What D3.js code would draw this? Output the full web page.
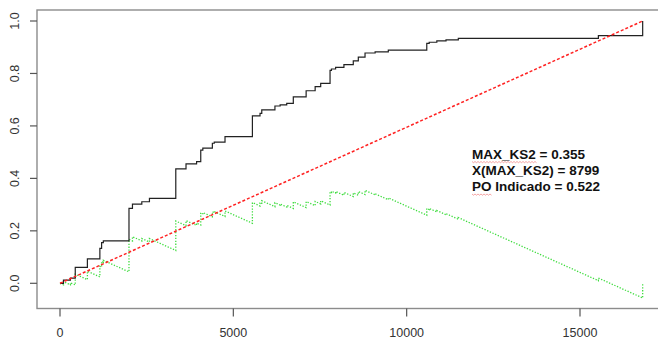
<!DOCTYPE html>
<html>
<head>
<meta charset="utf-8">
<script src="https://cdn.jsdelivr.net/npm/d3@7"></script>
<style>
  body { margin: 0; background: white; }
  text { font-family: "Liberation Sans", Arial, sans-serif; }
</style>
</head>
<body>
<div id="figure"></div>
<script>
// step points of the black curve (x where it jumps, value after the jump)
const stepX = [0, 100, 300, 440, 790, 1150, 1200, 1250, 1990, 2090, 2360, 2580, 3340, 3635, 3940, 4060, 4120, 4395, 4450, 4760,
  5550, 5770, 5820, 6200, 6350, 6540, 6730, 7100, 7360, 7520, 7790, 7830, 7950, 8190, 8460, 8605, 8799, 9090, 9470,
  10580, 10650, 10870, 11135, 11490, 15530, 16808]
const stepY = [0, 0.012, 0.02, 0.061, 0.093, 0.133, 0.155, 0.162, 0.286, 0.302, 0.311, 0.324, 0.436, 0.455, 0.464, 0.508, 0.515, 0.534, 0.538, 0.559,
  0.638, 0.648, 0.661, 0.676, 0.680, 0.686, 0.711, 0.734, 0.750, 0.762, 0.812, 0.817, 0.823, 0.834, 0.848, 0.862, 0.878, 0.882, 0.889,
  0.915, 0.919, 0.924, 0.928, 0.934, 0.944, 1.0]

// red diagonal
const diagX = [0, 16808]
const diagY = [0, 1]

const xTicks = [0, 5000, 10000, 15000]
const yTicks = [0, 0.2, 0.4, 0.6, 0.8, 1.0]
const notes = ['MAX_KS2 = 0.355', 'X(MAX_KS2) = 8799', 'PO Indicado = 0.522']

const width = 658
const height = 341
const box = { LEFT: 37, TOP: 10, BOTTOM: 308.5, RIGHT: 670 }

const x = d3.scaleLinear().domain([0, 15000]).range([60, 580])
const y = d3.scaleLinear().domain([0, 1]).range([283.3, 21])

const svg = d3.select('#figure').append('svg').attr('width', width).attr('height', height).attr('style', 'background:white')
const g = svg.append('g')

/**
 * box + axes
 */
g.append('rect').attr('x', box.LEFT).attr('y', box.TOP).attr('width', box.RIGHT - box.LEFT).attr('height', box.BOTTOM - box.TOP)
  .attr('fill', 'none').attr('stroke', '#8c8c8c').attr('stroke-width', 1.4)

const yAxis = g.append('g')
yAxis.selectAll('line').data(yTicks).enter().append('line')
  .attr('x1', 30).attr('x2', box.LEFT).attr('y1', d => y(d)).attr('y2', d => y(d))
  .attr('stroke', '#555').attr('stroke-width', 1.2)
yAxis.selectAll('text').data(yTicks).enter().append('text')
  .attr('transform', d => `translate(19.3,${y(d)}) rotate(-90)`)
  .attr('text-anchor', 'middle').attr('font-size', 12.5).attr('fill', '#333')
  .text(d3.format('.1f'))

const xAxis = g.append('g')
xAxis.selectAll('line').data(xTicks).enter().append('line')
  .attr('x1', d => x(d)).attr('x2', d => x(d)).attr('y1', box.BOTTOM).attr('y2', 316.5)
  .attr('stroke', '#555').attr('stroke-width', 1.2)
xAxis.selectAll('text').data(xTicks).enter().append('text')
  .attr('x', d => x(d)).attr('y', 337).attr('text-anchor', 'middle').attr('font-size', 12.5).attr('fill', '#333')
  .text(d => d)

/**
 * lines
 */
const N = diagX[1]
const steps = stepX.map((v, i) => [v, stepY[i]])

// green = black minus diagonal, sampled before and after every jump
const diff = []
steps.forEach((p, i) => {
  const base = p[0] / N
  if (i > 0) diff.push([p[0], stepY[i - 1] - base])
  diff.push([p[0], p[1] - base])
})

const line = d3.line().x(d => x(d[0])).y(d => y(d[1]))

g.append('path').datum(diff).attr('d', line)
  .attr('fill', 'none').attr('stroke', '#3fdc3f').attr('stroke-width', 1.3).attr('stroke-dasharray', '1.3,1.6')

g.append('path').datum(steps).attr('d', line.curve(d3.curveStepAfter))
  .attr('fill', 'none').attr('stroke', '#222').attr('stroke-width', 1.2)

g.append('path').datum(diagX.map((v, i) => [v, diagY[i]])).attr('d', d3.line().x(d => x(d[0])).y(d => y(d[1])))
  .attr('fill', 'none').attr('stroke', '#ff2222').attr('stroke-width', 1.5).attr('stroke-dasharray', '3,2')

/**
 * notes
 */
const noteG = g.append('g')
notes.forEach((t, i) => {
  noteG.append('text').text(t).attr('x', 472).attr('y', 158.5 + i * 16.2)
    .attr('font-size', 13.5).attr('font-weight', 'bold').attr('fill', '#111')
})

// spell-check squiggles under MAX_KS2 and PO
function squiggle(x0, x1, yy) {
  let d = `M${x0},${yy}`
  for (let xx = x0 + 1.5, k = 0; xx <= x1; xx += 1.5, k++) d += `L${xx},${yy + (k % 2 ? 0 : 1.2)}`
  noteG.append('path').attr('d', d).attr('fill', 'none').attr('stroke', '#f08080').attr('stroke-width', 0.7)
}
squiggle(472, 537, 161.5)
squiggle(472, 492, 194)
</script>
</body>
</html>
